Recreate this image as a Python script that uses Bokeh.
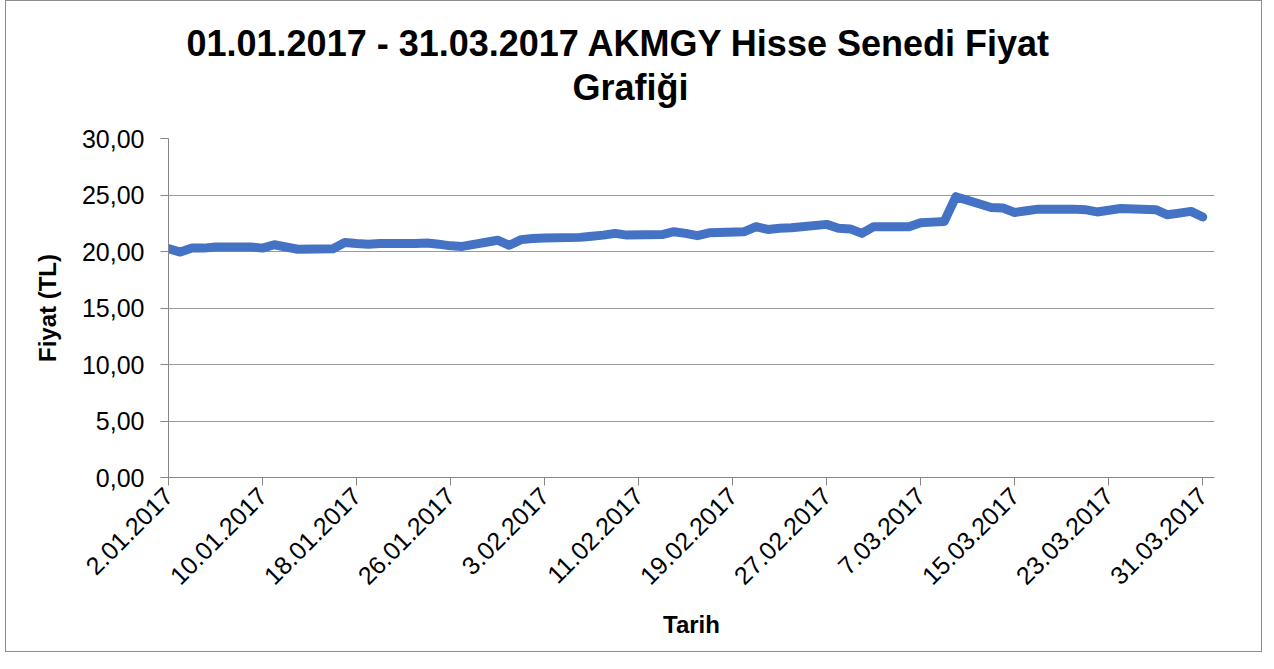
import pandas as pd
from math import pi
from bokeh.plotting import figure
from bokeh.models import FixedTicker, CustomJSTickFormatter, Range1d, Title, ColumnDataSource
from bokeh.embed import file_html
from bokeh.resources import INLINE

title_line1 = "01.01.2017 - 31.03.2017 AKMGY Hisse Senedi Fiyat"
title_line2 = "Grafiği"
x_title = "Tarih"
y_title = "Fiyat (TL)"

# trading days (weekdays) 2 Jan - 31 Mar 2017
dates = pd.bdate_range("2017-01-02", "2017-03-31")

prices = [
    # January
    20.25, 19.95, 20.30, 20.30, 20.40,
    20.40, 20.30, 20.60, 20.40, 20.20,
    20.25, 20.80, 20.70, 20.65, 20.70,
    20.70, 20.75, 20.65, 20.50, 20.45,
    21.00, 20.55,
    # February
    21.05, 21.15, 21.20,
    21.25, 21.35, 21.45, 21.60, 21.45,
    21.50, 21.75, 21.60, 21.40, 21.65,
    21.75, 22.20, 21.95, 22.05, 22.10,
    22.40, 22.05,
    # March
    22.00, 21.60, 22.20,
    22.20, 22.55, 22.60, 22.65, 24.85,
    23.90, 23.85, 23.45, 23.60, 23.75,
    23.75, 23.70, 23.50, 23.65, 23.80,
    23.70, 23.25, 23.40, 23.55, 23.05,
]

tick_dates = ["2017-01-02", "2017-01-10", "2017-01-18", "2017-01-26", "2017-02-03",
              "2017-02-11", "2017-02-19", "2017-02-27", "2017-03-07", "2017-03-15",
              "2017-03-23", "2017-03-31"]
y_ticks = [0, 5, 10, 15, 20, 25, 30]

src = ColumnDataSource(data=dict(date=dates, price=prices))

FONT = "Liberation Sans"

p = figure(
    x_axis_type="datetime",
    frame_width=1046, frame_height=339,
    min_border_left=162, min_border_right=47, min_border_top=137, min_border_bottom=174,
    output_backend="svg", toolbar_location=None,
    x_range=Range1d(pd.Timestamp("2017-01-02"), pd.Timestamp("2017-04-01")),
    y_range=Range1d(0, 30),
)
p.styles = {"border": "1px solid #8c8c8c", "margin-left": "5px"}
p.outline_line_color = None
p.background_fill_color = "white"
p.border_fill_color = "white"

p.line("date", "price", source=src, line_color="#4472C4", line_width=9,
       line_join="round", line_cap="round")

# axes
p.xaxis.ticker = FixedTicker(ticks=[pd.Timestamp(d).value / 1e6 for d in tick_dates])
p.xaxis.formatter = CustomJSTickFormatter(code="""
const d = new Date(tick);
return d.getUTCDate() + '.' + String(d.getUTCMonth() + 1).padStart(2, '0') + '.' + d.getUTCFullYear();
""")
p.xaxis.major_label_orientation = pi / 4
p.yaxis.ticker = FixedTicker(ticks=y_ticks)
p.yaxis.formatter = CustomJSTickFormatter(code="return tick.toFixed(2).replace('.', ',');")

for ax in (p.xaxis, p.yaxis):
    ax.axis_line_color = "#868686"
    ax.major_tick_line_color = "#868686"
    ax.major_tick_out = 8
    ax.major_tick_in = 0
    ax.minor_tick_line_color = None
    ax.major_label_text_font = FONT
    ax.major_label_text_font_size = "25px"
    ax.major_label_text_color = "#000000"
    ax.axis_label_text_font = FONT
    ax.axis_label_text_font_size = "24px"
    ax.axis_label_text_font_style = "bold"
    ax.axis_label_text_color = "#000000"

p.xaxis.axis_label = x_title
p.yaxis.axis_label = y_title
p.yaxis.major_label_standoff = 16
p.xaxis.major_label_standoff = 6
p.yaxis.axis_label_standoff = 18
p.xaxis.axis_label_standoff = 15

p.xgrid.grid_line_color = None
p.ygrid.grid_line_color = "#9a9a9a"
p.ygrid.ticker = FixedTicker(ticks=y_ticks)

# title: spacer nearest the frame, then line 2, then line 1
p.add_layout(Title(text=" ", text_font_size="1px", standoff=27), "above")
for txt, off, so in ((title_line2, 404, 2), (title_line1, 18, 0)):
    p.add_layout(Title(text=txt, align="left", offset=off, standoff=so,
                       text_font=FONT, text_font_size="36px", text_font_style="bold",
                       text_color="#000000"), "above")

open("out.html", "w").write(file_html(p, INLINE))
